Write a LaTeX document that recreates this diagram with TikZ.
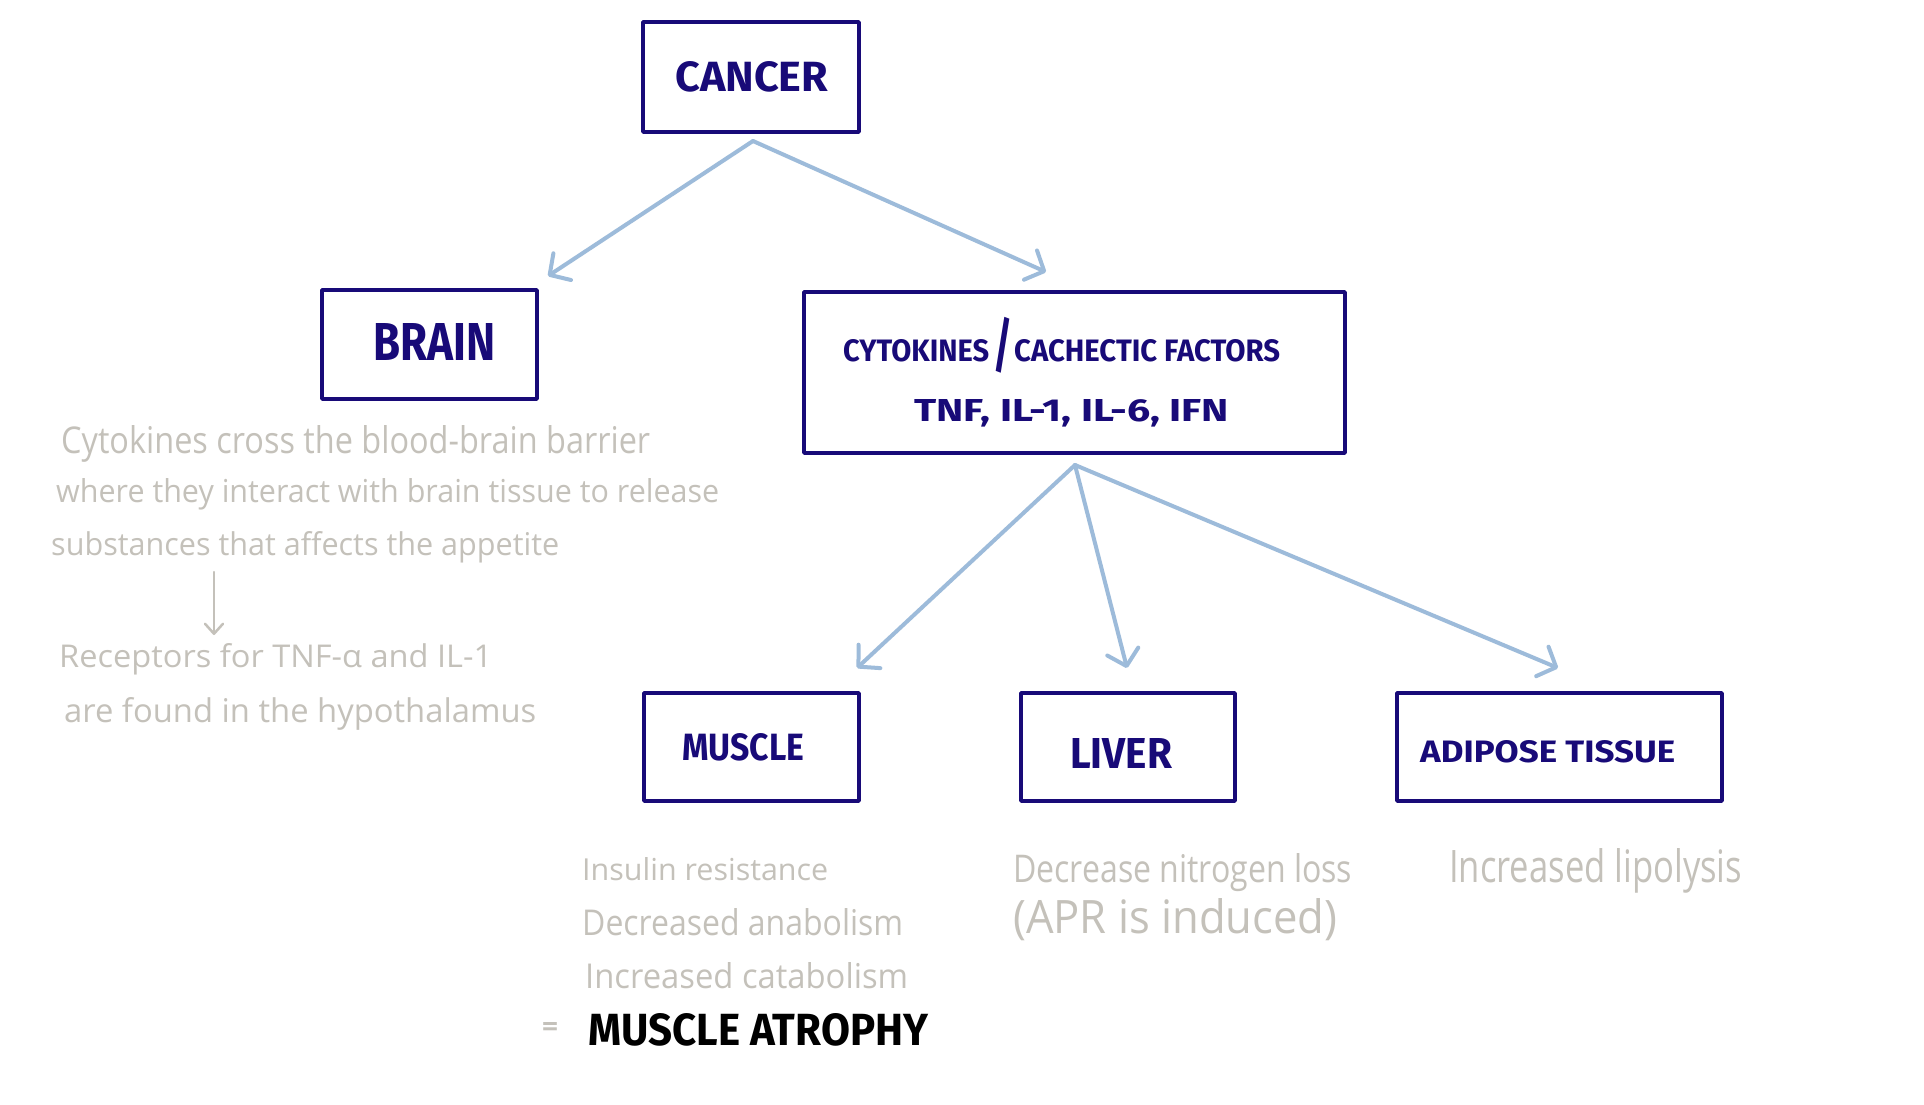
\documentclass[tikz,border=0pt]{standalone}
\usepackage{fontspec}
\usepackage{graphicx}
\usetikzlibrary{arrows.meta}
\newfontfamily\handfont{Open Sans}
\newfontfamily\capfont{Fira Sans}
\definecolor{navy}{RGB}{24,10,120}
\definecolor{handgray}{RGB}{196,193,186}
\definecolor{arrowblue}{RGB}{157,187,218}
\newcommand{\fitto}[3]{\resizebox{#1pt}{#2pt}{#3}}
\begin{document}
\begin{tikzpicture}[x=1pt,y=-1pt,
  boxframe/.style={draw=navy, line width=3.5pt, line join=round, inner sep=0pt},
  caplabel/.style={anchor=base west, inner sep=0pt, text=navy, font=\capfont\bfseries\fontsize{30}{30}\selectfont},
  blacklabel/.style={anchor=base west, inner sep=0pt, text=black, font=\capfont\bfseries\fontsize{30}{30}\selectfont},
  handtext/.style={anchor=base west, inner sep=0pt, text=handgray, font=\handfont\fontsize{30}{30}\selectfont},
  flow/.style={draw=arrowblue, line width=4pt, line cap=round, -{Straight Barb[length=15pt,width=32pt,round]}},
  grayflow/.style={draw=handgray, line width=2.5pt, line cap=round, -{Straight Barb[length=10pt,width=18pt,round]}}]
\useasboundingbox (0,0) rectangle (1924,1105);
\fill[white] (0,0) rectangle (1924,1105);

% boxes
\node[boxframe, minimum width=216pt, minimum height=110pt] (cancer) at (751,77) {};
\node[boxframe, minimum width=215pt, minimum height=109pt] (brain) at (429.5,344.5) {};
\node[boxframe, minimum width=541pt, minimum height=161pt] (cyto) at (1074.5,372.5) {};
\node[boxframe, minimum width=215pt, minimum height=108pt] (muscle) at (751.5,747) {};
\node[boxframe, minimum width=214pt, minimum height=108pt] (liver) at (1128,747) {};
\node[boxframe, minimum width=325pt, minimum height=108pt] (adipose) at (1559.5,747) {};

% box labels
\node[caplabel] (cancerlbl) at (675,92) {\fitto{153}{30}{CANCER}};
\node[caplabel] (brainlbl) at (373,360) {\fitto{122}{37}{BRAIN}};
\node[caplabel] (cytolblA) at (843,361) {\fitto{146}{22}{CYTOKINES}};
\node[inner sep=0pt, text=navy, font=\capfont\bfseries\fontsize{30}{30}\selectfont] (cytoslash) at (1003,345) {\resizebox*{19pt}{56pt}{/}};
\node[caplabel] (cytolblB) at (1014,361) {\fitto{266}{22}{CACHECTIC FACTORS}};
\node[caplabel] (cytolblC) at (914,421) {\fitto{315}{22}{TNF, IL-1, IL-6, IFN}};
\node[caplabel] (musclelbl) at (682,760) {\fitto{122}{27}{MUSCLE}};
\node[caplabel] (liverlbl) at (1070,768) {\fitto{102}{30}{LIVER}};
\node[caplabel] (adiposelbl) at (1420,762) {\fitto{255}{22}{ADIPOSE TISSUE}};

% arrow anchors
\coordinate (cancerapex) at (753,141);
\coordinate (braintip) at (548,276);
\coordinate (cytotip) at (1046,272);
\coordinate (cytoapex) at (1075,465);
\coordinate (muscletip) at (857,668);
\coordinate (livertip) at (1127,668);
\coordinate (adiposetip) at (1558,668);

\draw[flow] (cancerapex) -- (braintip);
\draw[flow] (cancerapex) -- (cytotip);
\draw[flow] (cytoapex) -- (muscletip);
\draw[flow] (cytoapex) -- (livertip);
\draw[flow] (cytoapex) -- (adiposetip);

% brain notes
\node[handtext] (bn1) at (61,453) {\fitto{589}{28}{Cytokines cross the blood-brain barrier}};
\node[handtext] (bn2) at (56,502) {\fitto{663}{24}{where they interact with brain tissue to release}};
\node[handtext] (bn3) at (51,555) {\fitto{508}{24}{substances that affects the appetite}};
\coordinate (garrowstart) at (214,572);
\coordinate (garrowend) at (214,635);
\draw[grayflow] (garrowstart) -- (garrowend);
\node[handtext] (bn4) at (59,667) {\fitto{433}{24}{Receptors for TNF-α and IL-1}};
\node[handtext] (bn5) at (64,722) {\fitto{472}{25}{are found in the hypothalamus}};

% muscle notes
\node[handtext] (mn1) at (582,880) {\fitto{246}{23}{Insulin resistance}};
\node[handtext] (mn2) at (582,935) {\fitto{321}{27}{Decreased anabolism}};
\node[handtext] (mn3) at (585,988) {\fitto{323}{26}{Increased catabolism}};
\node[handtext, font=\handfont\bfseries\fontsize{30}{30}\selectfont] (eqsign) at (542,1036) {\fitto{16}{14}{=}};
\node[blacklabel] (atrophy) at (588,1045) {\fitto{340}{32}{MUSCLE ATROPHY}};

% liver notes
\node[handtext] (ln1) at (1013,882) {\fitto{339}{29}{Decrease nitrogen loss}};
\node[handtext] (ln2) at (1013,933) {\fitto{324}{35}{(APR is induced)}};

% adipose notes
\node[handtext] (an1) at (1449,882) {\fitto{293}{34}{Increased lipolysis}};
\end{tikzpicture}
\end{document}
